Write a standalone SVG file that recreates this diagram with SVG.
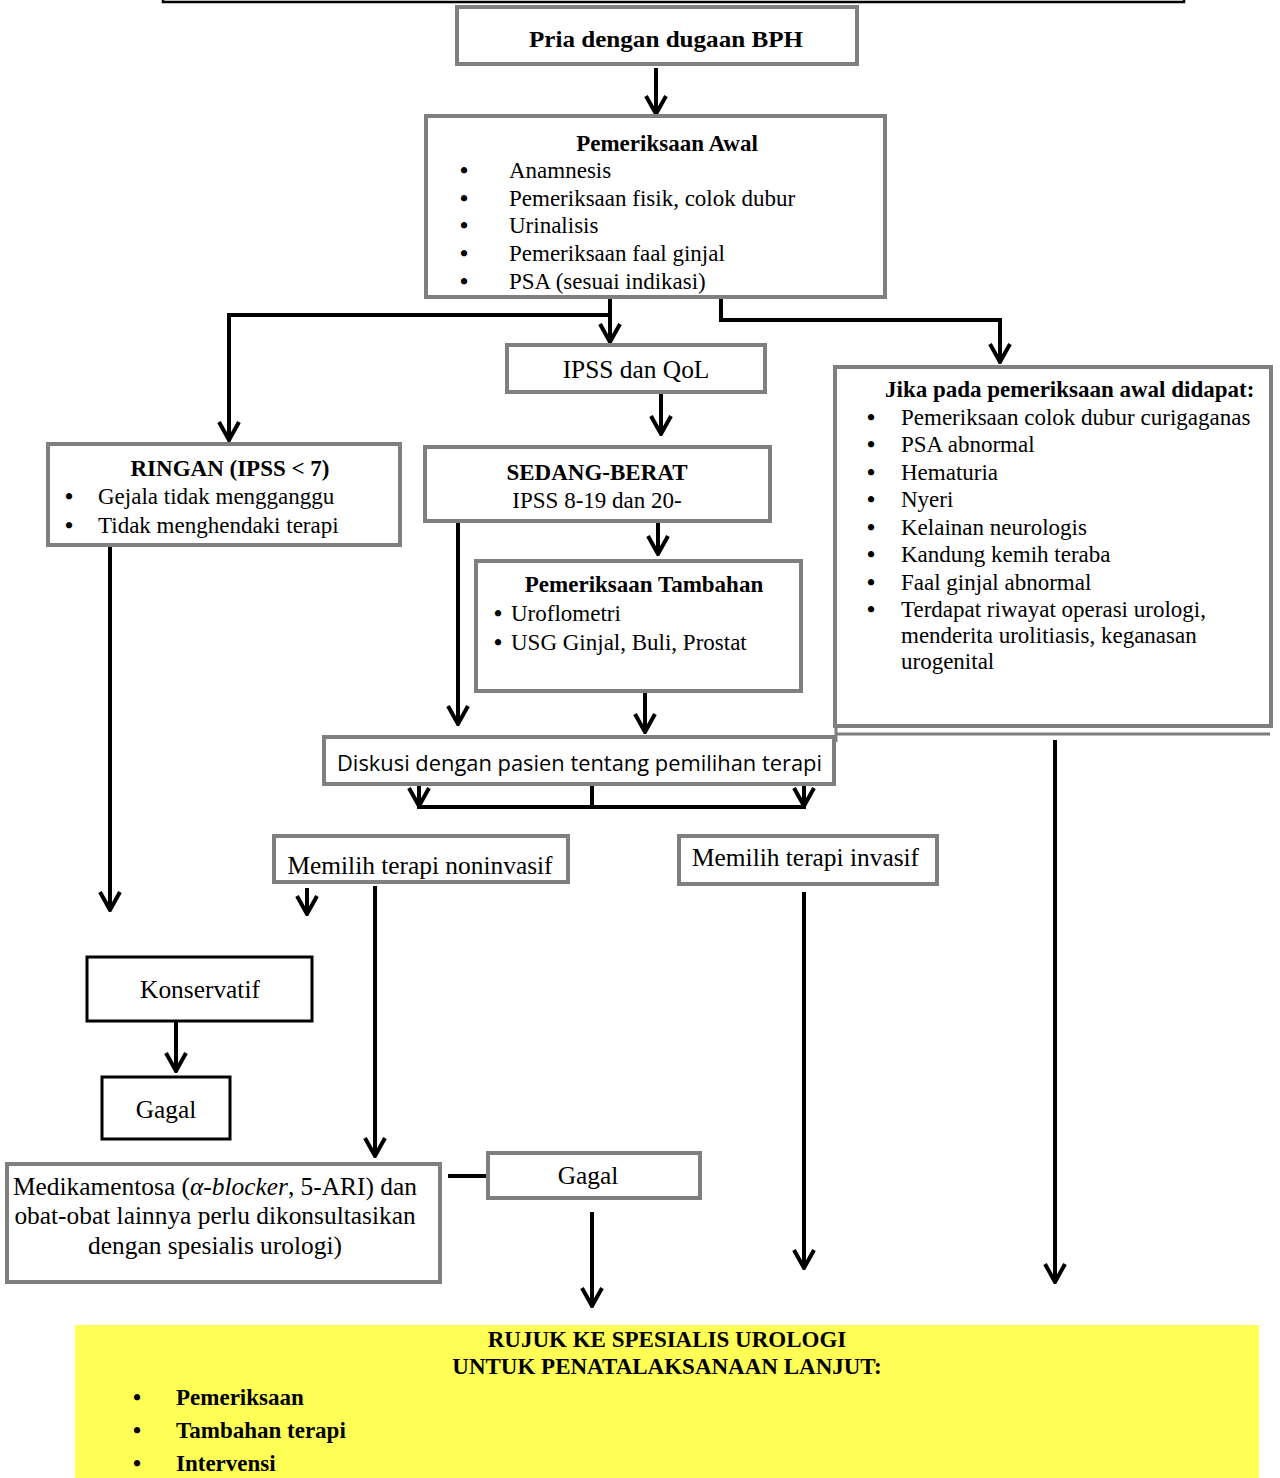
<svg xmlns="http://www.w3.org/2000/svg" width="1280" height="1478" viewBox="0 0 1280 1478">
<defs>
<marker id="arr" viewBox="0 0 22 24" refX="20" refY="12" markerWidth="22" markerHeight="24" markerUnits="userSpaceOnUse" orient="auto">
<path d="M2,2 L20,12 L2,22" fill="none" stroke="#000" stroke-width="4"/>
</marker>
</defs>
<style>
.g{fill:#fff;stroke:#7f7f7f;stroke-width:4}
.k{fill:#fff;stroke:#000;stroke-width:3}
.t{font-family:"Liberation Serif","Times New Roman",serif;font-size:23px;fill:#000}
.m{font-size:25.4px}
.bu{font-weight:bold}
.b{font-weight:bold}
.c{text-anchor:middle}
.ln{fill:none;stroke:#000;stroke-width:4}
.ar{fill:none;stroke:#000;stroke-width:4;marker-end:url(#arr)}
</style>
<rect width="1280" height="1478" fill="#fff"/>
<path d="M163,0 V2 H1184 V0" fill="none" stroke="#000" stroke-width="2.5"/>

<g id="connectors">
<path class="ar" d="M656,68 V114"/>
<path class="ar" d="M610,297 V342"/>
<path class="ar" d="M610,315 H229 V440"/>
<path class="ar" d="M721,297 V320 H1000 V362"/>
<path class="ar" d="M661,393 V434"/>
<path class="ar" d="M658,521 V554"/>
<path class="ar" d="M458,516 V724"/>
<path class="ar" d="M645,692 V732"/>
<path class="ar" d="M419,786 V806"/>
<path class="ar" d="M804,786 V806"/>
<path class="ln" d="M592,786 V807 M417,807 H806"/>
<path class="ar" d="M110,540 V910"/>
<path class="ar" d="M307,888 V914"/>
<path class="ar" d="M375,886 V1156"/>
<path class="ar" d="M804,892 V1268"/>
<path class="ar" d="M1055,740 V1282"/>
<path class="ar" d="M176,1021 V1071"/>
<path class="ln" d="M448,1176 H487" stroke-width="6"/>
<path class="ar" d="M592,1212 V1306" stroke-width="5"/>
</g>

<g id="n1">
<rect class="g" x="457" y="7" width="400" height="57"/>
<text class="t b" x="529" y="47" font-size="26" textLength="274" lengthAdjust="spacingAndGlyphs">Pria dengan dugaan BPH</text>
</g>

<g id="n2">
<rect class="g" x="426" y="116" width="459" height="181"/>
<text class="t b c" x="667" y="151">Pemeriksaan Awal</text>
<g class="t">
<text class="bu" x="460" y="178">•</text><text x="509" y="178">Anamnesis</text>
<text class="bu" x="460" y="206">•</text><text x="509" y="206">Pemeriksaan fisik, colok dubur</text>
<text class="bu" x="460" y="233">•</text><text x="509" y="233">Urinalisis</text>
<text class="bu" x="460" y="261">•</text><text x="509" y="261">Pemeriksaan faal ginjal</text>
<text class="bu" x="460" y="289">•</text><text x="509" y="289">PSA (sesuai indikasi)</text>
</g>
</g>

<g id="n3">
<rect class="g" x="507" y="345" width="258" height="47"/>
<text class="t m c" x="636" y="378">IPSS dan QoL</text>
</g>

<g id="n4">
<rect class="g" x="48" y="444" width="352" height="101"/>
<text class="t b c" x="230" y="476">RINGAN (IPSS &lt; 7)</text>
<g class="t">
<text class="bu" x="65" y="504">•</text><text x="98" y="504">Gejala tidak mengganggu</text>
<text class="bu" x="65" y="533">•</text><text x="98" y="533">Tidak menghendaki terapi</text>
</g>
</g>

<g id="n5">
<rect class="g" x="425" y="447" width="345" height="74"/>
<text class="t b c" x="597" y="480">SEDANG-BERAT</text>
<text class="t c" x="597" y="508">IPSS 8-19 dan 20-</text>
</g>

<g id="n6">
<rect class="g" x="835" y="367" width="436" height="359" stroke-width="6"/>
<path d="M835,734 H1270 M836,726 V742" fill="none" stroke="#7f7f7f" stroke-width="3"/>
<text class="t b" x="885" y="397">Jika pada pemeriksaan awal didapat:</text>
<g class="t">
<text class="bu" x="867" y="425">•</text><text x="901" y="425">Pemeriksaan colok dubur curigaganas</text>
<text class="bu" x="867" y="452">•</text><text x="901" y="452">PSA abnormal</text>
<text class="bu" x="867" y="480">•</text><text x="901" y="480">Hematuria</text>
<text class="bu" x="867" y="507">•</text><text x="901" y="507">Nyeri</text>
<text class="bu" x="867" y="535">•</text><text x="901" y="535">Kelainan neurologis</text>
<text class="bu" x="867" y="562">•</text><text x="901" y="562">Kandung kemih teraba</text>
<text class="bu" x="867" y="590">•</text><text x="901" y="590">Faal ginjal abnormal</text>
<text class="bu" x="867" y="617">•</text><text x="901" y="617">Terdapat riwayat operasi urologi,</text>
<text x="901" y="643">menderita urolitiasis, keganasan</text>
<text x="901" y="669">urogenital</text>
</g>
</g>

<g id="n7">
<rect class="g" x="476" y="561" width="325" height="130"/>
<text class="t b c" x="644" y="592">Pemeriksaan Tambahan</text>
<g class="t">
<text class="bu" x="494" y="621">•</text><text x="511" y="621">Uroflometri</text>
<text class="bu" x="494" y="650">•</text><text x="511" y="650">USG Ginjal, Buli, Prostat</text>
</g>
</g>

<g id="n8">
<rect class="g" x="324" y="737" width="510" height="47" stroke-width="5"/>
<text x="337" y="771" font-family="'Open Sans','Liberation Sans',sans-serif" font-size="21" textLength="485" lengthAdjust="spacingAndGlyphs">Diskusi dengan pasien tentang pemilihan terapi</text>
</g>

<g id="n9">
<rect class="g" x="274" y="836" width="294" height="46"/>
<text class="t m c" x="420" y="874">Memilih terapi noninvasif</text>
</g>

<g id="n10">
<rect class="g" x="679" y="836" width="258" height="48"/>
<text class="t m" x="692" y="866">Memilih terapi invasif</text>
</g>

<g id="n11">
<rect class="k" x="87" y="957" width="225" height="64"/>
<text class="t m c" x="200" y="998">Konservatif</text>
</g>

<g id="n12">
<rect class="k" x="102" y="1077" width="128" height="62"/>
<text class="t m c" x="166" y="1118">Gagal</text>
</g>

<g id="n13">
<rect class="g" x="7" y="1164" width="433" height="118"/>
<g class="t m c">
<text x="215" y="1195">Medikamentosa (<tspan font-style="italic">α-blocker</tspan>, 5-ARI) dan</text>
<text x="215" y="1224">obat-obat lainnya perlu dikonsultasikan</text>
<text x="215" y="1254">dengan spesialis urologi)</text>
</g>
</g>

<g id="n14">
<rect class="g" x="488" y="1153" width="212" height="45"/>
<text class="t m c" x="588" y="1184">Gagal</text>
</g>

<g id="n15">
<rect x="75" y="1325" width="1184" height="153" fill="#ffff55"/>
<text class="t b c" x="667" y="1347">RUJUK KE SPESIALIS UROLOGI</text>
<text class="t b c" x="667" y="1374">UNTUK PENATALAKSANAAN LANJUT:</text>
<g class="t b">
<text x="133" y="1405">•</text><text x="176" y="1405">Pemeriksaan</text>
<text x="133" y="1438">•</text><text x="176" y="1438">Tambahan terapi</text>
<text x="133" y="1471">•</text><text x="176" y="1471">Intervensi</text>
</g>
</g>
</svg>
